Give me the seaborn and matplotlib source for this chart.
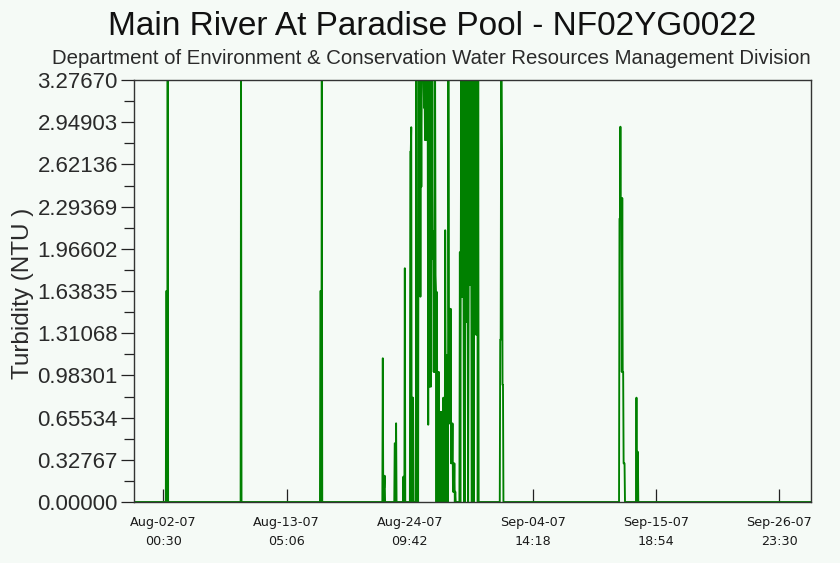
import matplotlib
matplotlib.use("Agg")
import matplotlib.pyplot as plt
import matplotlib.ticker as mticker
import pandas as pd
import seaborn as sns

# ---------------- data ----------------
title = "Main River At Paradise Pool - NF02YG0022"
subtitle = "Department of Environment & Conservation Water Resources Management Division"
y_label = "Turbidity (NTU )"

range_start = "2007-07-30 08:36"
range_end = "2007-09-29 20:30"

# hourly turbidity readings (NTU) for each event, starting at the given time
segment_starts = [
    "2007-08-02 06:00",
    "2007-08-09 01:00",
    "2007-08-16 06:00",
    "2007-08-21 22:00",
    "2007-08-23 00:00",
    "2007-08-23 19:00",
    "2007-08-24 06:00",
    "2007-09-01 13:00",
    "2007-09-12 10:00",
    "2007-09-13 23:00",
]

seg_aug02 = [0, 1.638, 1.638, 0, 3.2767, 0]
seg_aug09 = [0, 3.2767, 0]
seg_aug16 = [0, 1.638, 1.638, 0, 3.2767, 0]
seg_aug21 = [0, 1.116, 0, 0.11, 0.11, 0.204, 0]
seg_aug23a = [0, 0.456, 0.456, 0, 0.611, 0]
seg_aug23b = [0, 0.197, 0, 0, 1.815, 0]
seg_aug24 = [
    0, 0, 0, 0, 0,
    2.72, 2.72, 2.91, 0, 0.81, 0.81, 0.81, 0,
    0, 0, 0, 0, 0, 3.2767, 0, 0, 0, 0, 3.2767,
    3.2767, 3.2767, 3.2767, 1.594, 3.2767, 2.447, 3.2767,
    3.2767, 3.2767, 3.2767, 3.2767, 3.06, 3.2767,
    2.81, 3.2767, 2.81, 3.2767, 2.81, 3.2767, 2.81,
    0.6, 3.2767, 0.896, 3.2767, 0.896, 3.2767, 0.896,
    3.2767, 1.89, 3.2767, 1.89, 2.10, 1.01, 2.10, 1.01,
    3.2767, 1.76, 1.63, 0, 1.63, 0, 1.01, 0, 1.01,
    0, 0.70, 0, 0.70, 0, 0.70, 0, 0.70, 0,
    0.81, 0, 0.81, 0, 2.11, 1.16, 0, 1.14, 0, 1.14, 0,
    3.2767, 1.5, 0.61, 1.5, 0.61, 1.5, 0.3, 0.61, 0.3, 0.61,
    0.08, 0.3, 0.08, 0.3, 0, 0.08, 0,
    0, 0, 0, 0, 0, 0, 0,
    0, 1.94, 0, 1.94,
    3.2767, 1.594, 3.2767, 1.594, 3.2767, 1.594, 0, 1.206, 0,
    3.2767, 1.40, 3.2767, 1.40, 3.2767, 1.40, 0, 1.40,
    3.2767, 1.685, 3.2767, 1.685, 3.2767, 1.685, 0,
    3.2767, 1.633, 3.2767, 0, 1.633, 3.2767,
    2.62, 3.2767, 1.30, 3.2767, 1.30, 3.2767, 0, 3.2767, 0,
    0, 0,
]
seg_sep01 = [0, 0, 1.26, 1.26, 3.2767, 3.2767, 2.71, 0.91, 0.91, 0, 0]
seg_sep12 = [0, 2.20, 2.20, 2.914, 2.20, 2.36, 1.01, 2.36, 1.01, 1.01, 0.30, 0.30, 0.30, 0]
seg_sep13 = [0, 0.81, 0, 0.39, 0.39, 0]

segment_values = [seg_aug02, seg_aug09, seg_aug16, seg_aug21, seg_aug23a,
                  seg_aug23b, seg_aug24, seg_sep01, seg_sep12, seg_sep13]

xtick_times = ["2007-08-02 00:30", "2007-08-13 05:06", "2007-08-24 09:42",
               "2007-09-04 14:18", "2007-09-15 18:54", "2007-09-26 23:30"]
ytick_values = [0.0, 0.32767, 0.65534, 0.98301, 1.31068, 1.63835,
                1.96602, 2.29369, 2.62136, 2.94903, 3.2767]

# ---------------- build table ----------------
frames = [pd.DataFrame({"time": [pd.Timestamp(range_start)], "turbidity": [0.0]})]
for start, vals in zip(segment_starts, segment_values):
    frames.append(pd.DataFrame({
        "time": pd.date_range(start, periods=len(vals), freq="h"),
        "turbidity": vals,
    }))
frames.append(pd.DataFrame({"time": [pd.Timestamp(range_end)], "turbidity": [0.0]}))
df = pd.concat(frames, ignore_index=True)

# ---------------- style ----------------
BG = "#f5faf6"
sns.set_theme(style="white")
plt.rcParams["font.family"] = ["Liberation Sans", "DejaVu Sans"]

fig = plt.figure(figsize=(8.4, 5.63), dpi=100, facecolor=BG)
ax = fig.add_axes([134 / 840, 1 - 502 / 563, (811 - 134) / 840, (502 - 80) / 563])
ax.set_facecolor(BG)

sns.lineplot(data=df, x="time", y="turbidity", estimator=None, sort=False,
             color="#008000", linewidth=1.35, ax=ax)

ax.set_xlim(pd.Timestamp(range_start), pd.Timestamp(range_end))
ax.set_ylim(0, ytick_values[-1])
ax.set_xlabel("")
ax.set_ylabel("")

xt = pd.to_datetime(xtick_times)
ax.set_xticks(xt)
ax.set_xticklabels([t.strftime("%b-%d-%y\n%H:%M") for t in xt],
                   fontfamily="DejaVu Sans", fontsize=9.2, color="#1a1a1a",
                   linespacing=1.6)
ax.set_yticks(ytick_values)
ax.set_yticklabels([f"{v:.5f}" for v in ytick_values], fontsize=16, color="#2a2a2a")
ax.yaxis.set_minor_locator(mticker.AutoMinorLocator(2))

ax.tick_params(axis="x", which="major", direction="in", length=9.4, width=0.9,
               color="#222222", pad=10, bottom=True, top=False)
ax.tick_params(axis="y", which="major", direction="out", length=9.6, width=0.9,
               color="#222222", pad=2, left=True, right=False)
ax.tick_params(axis="y", which="minor", direction="out", length=7, width=0.9,
               color="#222222", left=True, right=False)

for s in ax.spines.values():
    s.set_visible(True)
    s.set_color("#333333")
    s.set_linewidth(1.0)
    s.set_zorder(5)
ax.grid(False)

fig.text(432 / 840, 1 - 35 / 563, title, ha="center", va="baseline",
         fontsize=24, color="#111111")
fig.text(431 / 840, 1 - 64 / 563, subtitle, ha="center", va="baseline",
         fontsize=14.7, color="#2a2a2a")
fig.text(23 / 840, 1 - 293 / 563, y_label, rotation=90, ha="center", va="center",
         fontsize=17.5, color="#2a2a2a")

fig.savefig("out.png", dpi=100, facecolor=BG)
